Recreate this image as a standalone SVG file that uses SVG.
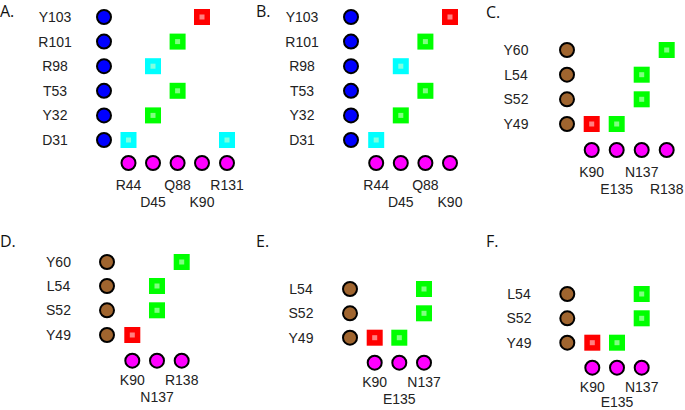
<svg xmlns="http://www.w3.org/2000/svg" xmlns:xlink="http://www.w3.org/1999/xlink" width="685" height="410" viewBox="0 0 685 410">
<style>
.lbl{font-family:"Liberation Sans",Arial,sans-serif;font-size:14px;fill:#222;text-anchor:middle}
.pl{font-family:"Open Sans","Liberation Sans",sans-serif;font-size:16px;fill:#111}
.res{stroke:#000;stroke-width:2}
.blue{fill:#0000ff}
.brown{fill:#a0652f}
.pink{fill:#ff00ff}
</style>
<defs>
<g id="sqG"><rect x="-8" y="-8" width="16" height="16" fill="#00ff00"/><rect x="-2.5" y="-2.5" width="5" height="5" fill="#80ff80"/></g>
<g id="sqR"><rect x="-8" y="-8" width="16" height="16" fill="#ff0000"/><rect x="-2.5" y="-2.5" width="5" height="5" fill="#ff8080"/></g>
<g id="sqC"><rect x="-8" y="-8" width="16" height="16" fill="#00ffff"/><rect x="-2.5" y="-2.5" width="5" height="5" fill="#80ffe0"/></g>
</defs>

<g id="panelA">
<text class="pl" x="0" y="17">A.</text>
<g id="A_Y103"><text class="lbl" x="55" y="22">Y103</text><circle class="res blue" cx="104" cy="17" r="7"/></g>
<g id="A_R101"><text class="lbl" x="55" y="46.6">R101</text><circle class="res blue" cx="104" cy="41.6" r="7"/></g>
<g id="A_R98"><text class="lbl" x="55" y="71.2">R98</text><circle class="res blue" cx="104" cy="66.2" r="7"/></g>
<g id="A_T53"><text class="lbl" x="55" y="95.8">T53</text><circle class="res blue" cx="104" cy="90.8" r="7"/></g>
<g id="A_Y32"><text class="lbl" x="55" y="120.4">Y32</text><circle class="res blue" cx="104" cy="115.4" r="7"/></g>
<g id="A_D31"><text class="lbl" x="55" y="145">D31</text><circle class="res blue" cx="104" cy="140" r="7"/></g>
<g id="A_contacts">
<use xlink:href="#sqR" x="202" y="17"/>
<use xlink:href="#sqG" x="177.6" y="41.6"/>
<use xlink:href="#sqC" x="153" y="66.2"/>
<use xlink:href="#sqG" x="177.6" y="90.8"/>
<use xlink:href="#sqG" x="153" y="115.4"/>
<use xlink:href="#sqC" x="128.5" y="140"/>
<use xlink:href="#sqC" x="227" y="140"/>
</g>
<g id="A_R44"><circle class="res pink" cx="128.5" cy="163" r="7"/><text class="lbl" x="128.5" y="190">R44</text></g>
<g id="A_D45"><circle class="res pink" cx="153" cy="163" r="7"/><text class="lbl" x="153" y="207">D45</text></g>
<g id="A_Q88"><circle class="res pink" cx="177.6" cy="163" r="7"/><text class="lbl" x="177.6" y="190">Q88</text></g>
<g id="A_K90"><circle class="res pink" cx="202" cy="163" r="7"/><text class="lbl" x="202" y="207">K90</text></g>
<g id="A_R131"><circle class="res pink" cx="227" cy="163" r="7"/><text class="lbl" x="227" y="190">R131</text></g>
</g>

<g id="panelB">
<text class="pl" x="256" y="17">B.</text>
<g id="B_Y103"><text class="lbl" x="302" y="22">Y103</text><circle class="res blue" cx="351" cy="17" r="7"/></g>
<g id="B_R101"><text class="lbl" x="302" y="46.6">R101</text><circle class="res blue" cx="351" cy="41.6" r="7"/></g>
<g id="B_R98"><text class="lbl" x="302" y="71.2">R98</text><circle class="res blue" cx="351" cy="66.2" r="7"/></g>
<g id="B_T53"><text class="lbl" x="302" y="95.8">T53</text><circle class="res blue" cx="351" cy="90.8" r="7"/></g>
<g id="B_Y32"><text class="lbl" x="302" y="120.4">Y32</text><circle class="res blue" cx="351" cy="115.4" r="7"/></g>
<g id="B_D31"><text class="lbl" x="302" y="145">D31</text><circle class="res blue" cx="351" cy="140" r="7"/></g>
<g id="B_contacts">
<use xlink:href="#sqR" x="450" y="17"/>
<use xlink:href="#sqG" x="425.4" y="41.6"/>
<use xlink:href="#sqC" x="400.8" y="66.2"/>
<use xlink:href="#sqG" x="425.4" y="90.8"/>
<use xlink:href="#sqG" x="400.8" y="115.4"/>
<use xlink:href="#sqC" x="376.2" y="140"/>
</g>
<g id="B_R44"><circle class="res pink" cx="376.2" cy="163" r="7"/><text class="lbl" x="376.2" y="190">R44</text></g>
<g id="B_D45"><circle class="res pink" cx="400.8" cy="163" r="7"/><text class="lbl" x="400.8" y="207">D45</text></g>
<g id="B_Q88"><circle class="res pink" cx="425.4" cy="163" r="7"/><text class="lbl" x="425.4" y="190">Q88</text></g>
<g id="B_K90"><circle class="res pink" cx="450" cy="163" r="7"/><text class="lbl" x="450" y="207">K90</text></g>
</g>

<g id="panelC">
<text class="pl" x="486" y="18">C.</text>
<g id="C_Y60"><text class="lbl" x="516" y="55">Y60</text><circle class="res brown" cx="567" cy="50" r="7"/></g>
<g id="C_L54"><text class="lbl" x="516" y="79.7">L54</text><circle class="res brown" cx="567" cy="74.7" r="7"/></g>
<g id="C_S52"><text class="lbl" x="516" y="104.3">S52</text><circle class="res brown" cx="567" cy="99.3" r="7"/></g>
<g id="C_Y49"><text class="lbl" x="516" y="129">Y49</text><circle class="res brown" cx="567" cy="124" r="7"/></g>
<g id="C_contacts">
<use xlink:href="#sqG" x="666.7" y="50"/>
<use xlink:href="#sqG" x="641.7" y="74.7"/>
<use xlink:href="#sqG" x="641.7" y="99.3"/>
<use xlink:href="#sqR" x="591.7" y="124"/>
<use xlink:href="#sqG" x="616.7" y="124"/>
</g>
<g id="C_K90"><circle class="res pink" cx="591.7" cy="150" r="7"/><text class="lbl" x="591.7" y="176.5">K90</text></g>
<g id="C_E135"><circle class="res pink" cx="616.7" cy="150" r="7"/><text class="lbl" x="616.7" y="193.5">E135</text></g>
<g id="C_N137"><circle class="res pink" cx="641.7" cy="150" r="7"/><text class="lbl" x="641.7" y="176.5">N137</text></g>
<g id="C_R138"><circle class="res pink" cx="666.7" cy="150" r="7"/><text class="lbl" x="666.7" y="193.5">R138</text></g>
</g>

<g id="panelD">
<text class="pl" x="0" y="246.7">D.</text>
<g id="D_Y60"><text class="lbl" x="58.5" y="267">Y60</text><circle class="res brown" cx="107" cy="262" r="7"/></g>
<g id="D_L54"><text class="lbl" x="58.5" y="291">L54</text><circle class="res brown" cx="107" cy="286" r="7"/></g>
<g id="D_S52"><text class="lbl" x="58.5" y="315.3">S52</text><circle class="res brown" cx="107" cy="310.3" r="7"/></g>
<g id="D_Y49"><text class="lbl" x="58.5" y="340">Y49</text><circle class="res brown" cx="107" cy="335" r="7"/></g>
<g id="D_contacts">
<use xlink:href="#sqG" x="181.7" y="262"/>
<use xlink:href="#sqG" x="157" y="286"/>
<use xlink:href="#sqG" x="157" y="310.3"/>
<use xlink:href="#sqR" x="132.3" y="335"/>
</g>
<g id="D_K90"><circle class="res pink" cx="132.3" cy="360.7" r="7"/><text class="lbl" x="132.3" y="385">K90</text></g>
<g id="D_N137"><circle class="res pink" cx="157" cy="360.7" r="7"/><text class="lbl" x="157" y="402">N137</text></g>
<g id="D_R138"><circle class="res pink" cx="181.7" cy="360.7" r="7"/><text class="lbl" x="181.7" y="385">R138</text></g>
</g>

<g id="panelE">
<text class="pl" x="256" y="246.7">E.</text>
<g id="E_L54"><text class="lbl" x="301" y="294">L54</text><circle class="res brown" cx="350" cy="289" r="7"/></g>
<g id="E_S52"><text class="lbl" x="301" y="318.3">S52</text><circle class="res brown" cx="350" cy="313.3" r="7"/></g>
<g id="E_Y49"><text class="lbl" x="301" y="342.7">Y49</text><circle class="res brown" cx="350" cy="337.7" r="7"/></g>
<g id="E_contacts">
<use xlink:href="#sqG" x="424" y="289"/>
<use xlink:href="#sqG" x="424" y="313.3"/>
<use xlink:href="#sqR" x="374.7" y="337.7"/>
<use xlink:href="#sqG" x="399.3" y="337.7"/>
</g>
<g id="E_K90"><circle class="res pink" cx="374.7" cy="362.7" r="7"/><text class="lbl" x="374.7" y="386.7">K90</text></g>
<g id="E_E135"><circle class="res pink" cx="399.3" cy="362.7" r="7"/><text class="lbl" x="399.3" y="404">E135</text></g>
<g id="E_N137"><circle class="res pink" cx="424" cy="362.7" r="7"/><text class="lbl" x="424" y="386.7">N137</text></g>
</g>

<g id="panelF">
<text class="pl" x="486" y="246.7">F.</text>
<g id="F_L54"><text class="lbl" x="519" y="299">L54</text><circle class="res brown" cx="567.3" cy="294" r="7"/></g>
<g id="F_S52"><text class="lbl" x="519" y="323.3">S52</text><circle class="res brown" cx="567.3" cy="318.3" r="7"/></g>
<g id="F_Y49"><text class="lbl" x="519" y="347.7">Y49</text><circle class="res brown" cx="567.3" cy="342.7" r="7"/></g>
<g id="F_contacts">
<use xlink:href="#sqG" x="641.7" y="294"/>
<use xlink:href="#sqG" x="641.7" y="318.3"/>
<use xlink:href="#sqR" x="592.3" y="342.7"/>
<use xlink:href="#sqG" x="617" y="342.7"/>
</g>
<g id="F_K90"><circle class="res pink" cx="592.3" cy="367.7" r="7"/><text class="lbl" x="592.3" y="392">K90</text></g>
<g id="F_E135"><circle class="res pink" cx="617" cy="367.7" r="7"/><text class="lbl" x="617" y="406.5">E135</text></g>
<g id="F_N137"><circle class="res pink" cx="641.7" cy="367.7" r="7"/><text class="lbl" x="641.7" y="392">N137</text></g>
</g>
</svg>
